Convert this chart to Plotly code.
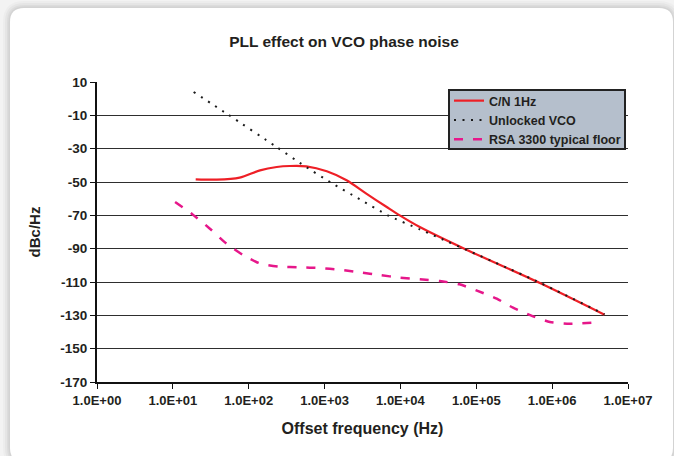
import plotly.graph_objects as go

# ---------------- data ----------------
cn_freq = [20, 38, 76, 141, 234, 347, 575, 1070, 1950, 3550, 6600, 9800,
           18000, 74000, 690000, 4.9e6]
cn_val = [-48.4, -48.6, -47.4, -43.0, -41.0, -40.4, -40.6, -43.6, -49.0,
          -57.0, -65.0, -70.0, -77.0, -90.6, -110.6, -129.6]

vco_freq = [18.8, 53.7, 233, 528, 1236, 2917, 7100, 18000, 617000, 4.9e6]
vco_val = [4.0, -9.6, -29.0, -40.0, -50.6, -60.4, -70.4, -78.4, -109.4, -129.4]

rsa_freq = [10.7, 17.7, 30.8, 51, 85, 126, 155, 258, 473, 867, 1585, 2917,
            5360, 9800, 18000, 33000, 60000, 100000, 186000, 305000, 562000,
            933000, 1.7e6, 3.55e6]
rsa_val = [-62.0, -69.0, -78.0, -87.0, -94.0, -98.0, -99.4, -100.8, -101.2,
           -101.6, -102.6, -104.2, -105.8, -107.4, -108.4, -109.4, -111.4,
           -115.0, -120.0, -125.4, -130.6, -134.0, -135.0, -134.4]

x_tickvals = [1, 10, 100, 1000, 1e4, 1e5, 1e6, 1e7]
x_ticktext = ["1.0E+00", "1.0E+01", "1.0E+02", "1.0E+03", "1.0E+04",
              "1.0E+05", "1.0E+06", "1.0E+07"]
y_tickvals = [10, -10, -30, -50, -70, -90, -110, -130, -150, -170]
y_ticktext = ["10", "-10", "-30", "-50", "-70", "-90", "-110", "-130",
              "-150", "-170"]

series_names = ["C/N 1Hz", "Unlocked VCO", "RSA 3300 typical floor"]

# ---------------- layout geometry ----------------
W, H = 674, 456
L, R, T, B = 97, 46, 82, 74
PW, PH = W - L - R, H - T - B

FONT = "Liberation Sans, Arial, Helvetica, sans-serif"
TXT = "#231f20"
PLOT_BG = "#b5bfcc"


def px(x):
    return (x - L) / PW


def py(y):
    return (H - B - y) / PH


def rrect(x0, y0, x1, y1, r):
    pts = [
        f"M {px(x0 + r)},{py(y0)}",
        f"L {px(x1 - r)},{py(y0)}",
        f"Q {px(x1)},{py(y0)} {px(x1)},{py(y0 + r)}",
        f"L {px(x1)},{py(y1 - r)}",
        f"Q {px(x1)},{py(y1)} {px(x1 - r)},{py(y1)}",
        f"L {px(x0 + r)},{py(y1)}",
        f"Q {px(x0)},{py(y1)} {px(x0)},{py(y1 - r)}",
        f"L {px(x0)},{py(y0 + r)}",
        f"Q {px(x0)},{py(y0)} {px(x0 + r)},{py(y0)}",
        "Z",
    ]
    return " ".join(pts)


shapes = []
for d, a in [(7, 0.025), (5, 0.03), (3, 0.035), (1.5, 0.04)]:
    shapes.append(dict(type="path", xref="paper", yref="paper", layer="below",
                       path=rrect(10 - d, 8 - d, 673 + d, 462 + d, 14 + d),
                       fillcolor=f"rgba(0,0,0,{a})", line=dict(width=0)))
shapes.append(dict(type="path", xref="paper", yref="paper", layer="below",
                   path=rrect(10, 8, 673, 462, 14),
                   fillcolor="white", line=dict(width=0)))
# legend frame (filled with plot colour so the gridline is hidden inside it)
shapes.append(dict(type="rect", xref="paper", yref="paper", layer="above",
                   x0=px(449), x1=px(625), y0=py(149), y1=py(90),
                   fillcolor=PLOT_BG, line=dict(color="#222222", width=2)))

fig = go.Figure()
fig.add_trace(go.Scatter(
    x=cn_freq, y=cn_val, name=series_names[0], mode="lines",
    line=dict(color="#ee1f26", width=2.2, shape="spline", smoothing=0.8)))
fig.add_trace(go.Scatter(
    x=vco_freq, y=vco_val, name=series_names[1], mode="lines",
    line=dict(color="#1a1a1a", width=2, dash="2px,6.5px", shape="spline",
              smoothing=0.6)))
fig.add_trace(go.Scatter(
    x=rsa_freq, y=rsa_val, name=series_names[2], mode="lines",
    line=dict(color="#e6178a", width=2.5, dash="9px,10px", shape="spline",
              smoothing=0.6)))

fig.update_layout(
    width=W, height=H,
    margin=dict(l=L, r=R, t=T, b=B, autoexpand=False),
    paper_bgcolor="#f3f3f3",
    plot_bgcolor=PLOT_BG,
    font=dict(family=FONT, color=TXT, size=12, weight="bold"),
    title=dict(text="PLL effect on VCO phase noise", x=344 / W, xref="container",
               xanchor="center", y=1 - 42 / H, yref="container", yanchor="middle",
               font=dict(size=15.5, weight="bold", family=FONT, color=TXT)),
    showlegend=True,
    legend=dict(x=px(449), y=py(86), xanchor="left", yanchor="top",
                bgcolor="rgba(0,0,0,0)", borderwidth=0,
                font=dict(size=12.5, weight="bold", family=FONT, color=TXT),
                itemwidth=30, tracegroupgap=0),
    shapes=shapes,
)

fig.update_xaxes(
    type="log", range=[0, 7], tickvals=x_tickvals, ticktext=x_ticktext,
    showgrid=False, zeroline=False, showline=True, linecolor="#111111",
    linewidth=2, ticks="outside", ticklen=5, tickwidth=1, tickcolor="#111111",
    tickfont=dict(size=13, weight="bold", family=FONT, color=TXT),
    title=dict(text="Offset frequency (Hz)", standoff=16,
               font=dict(size=16, weight="bold", family=FONT, color=TXT)),
)
fig.update_yaxes(
    range=[-170, 10], tickvals=y_tickvals, ticktext=y_ticktext,
    showgrid=True, gridcolor="#2e2e2e", gridwidth=1,
    zeroline=False, showline=True, linecolor="#111111", linewidth=2,
    ticks="outside", ticklen=5, tickwidth=1, tickcolor="#111111",
    tickfont=dict(size=13.5, weight="bold", family=FONT, color=TXT),
    title=dict(text="dBc/Hz", standoff=16,
               font=dict(size=15, weight="bold", family=FONT, color=TXT)),
)

fig.write_html(
    "out.html",
    config={"displayModeBar": False},
    post_script="document.documentElement.style.overflow='hidden';"
                "document.body.style.margin='0';"
                "document.body.style.overflow='hidden';",
)
